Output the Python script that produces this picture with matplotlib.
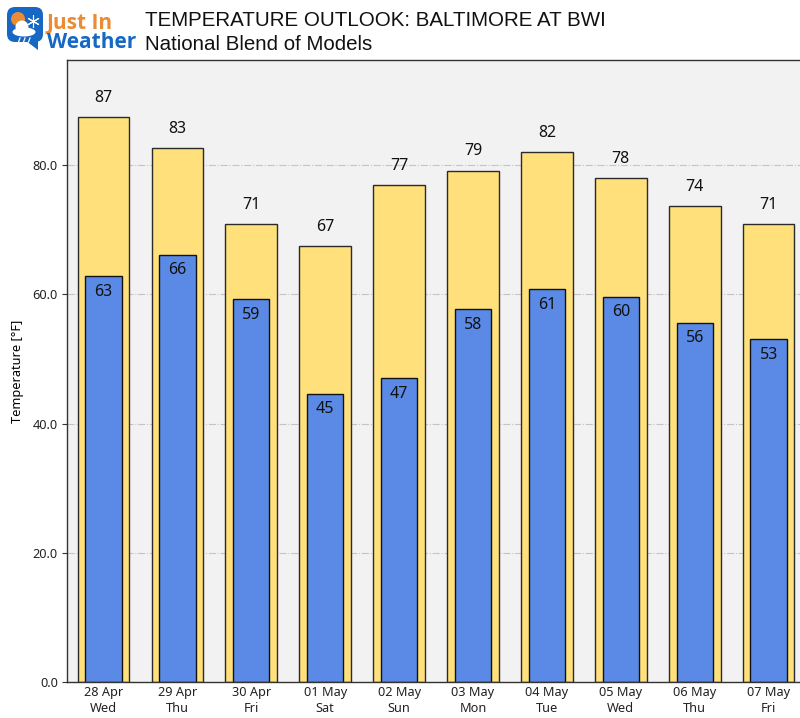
#temperature outlook bars, high behind low
import matplotlib.pyplot as plt
from matplotlib.patches import FancyBboxPatch, Circle, Ellipse, Polygon
import numpy as np

plt.rcParams['font.family'] = ['Noto Sans', 'DejaVu Sans']

dates = ['28 Apr', '29 Apr', '30 Apr', '01 May', '02 May', '03 May', '04 May', '05 May', '06 May', '07 May']
days = ['Wed', 'Thu', 'Fri', 'Sat', 'Sun', 'Mon', 'Tue', 'Wed', 'Thu', 'Fri']
highs = [87.4, 82.6, 70.8, 67.4, 76.9, 79.1, 82.0, 78.0, 73.6, 70.8]
lows = [62.8, 66.1, 59.2, 44.6, 47.0, 57.7, 60.8, 59.6, 55.6, 53.0]
yticks = [0, 20, 40, 60, 80]

W, H = 800, 718
fig = plt.figure(figsize=(W / 100, H / 100), dpi=100, facecolor='white')

#axes in pixels: left 67, top 60, bottom 682, runs off the right side
ax = fig.add_axes([67 / W, 1 - 682 / H, (W - 67) / W, (682 - 60) / H])
ax.set_facecolor('#f2f2f2')

x = np.arange(len(dates))
ax.yaxis.grid(True, color='#c4c4c4', linestyle='-.', linewidth=0.8)
ax.set_axisbelow(True)
ax.bar(x, highs, width=0.7, color='#ffe07a', edgecolor='#2a2a2a', linewidth=1)
ax.bar(x, lows, width=0.49, color='#5a8ae6', edgecolor='#111111', linewidth=1)

for i in x:
    ax.text(i, highs[i] + 3, '%.0f' % highs[i], ha='center', va='center', fontsize=11.5, color='#111111')
    ax.text(i, lows[i] - 2.4, '%.0f' % lows[i], ha='center', va='center', fontsize=11.5, color='#111111')

ax.set_xlim(-0.494, 9.425)
ax.set_ylim(0, 96.25)
ax.set_xticks(x)
ax.set_xticklabels([d + '\n' + n for d, n in zip(dates, days)], fontsize=9.2, linespacing=1.3)
ax.set_yticks(yticks)
ax.set_yticklabels(['%.1f' % v for v in yticks], fontsize=9.2)
ax.set_ylabel('Temperature [°F]', fontsize=9.2, labelpad=6)
ax.tick_params(axis='y', length=3.5, width=0.8, pad=3, color='#333333', labelcolor='#222222')
ax.tick_params(axis='x', length=0, pad=3, labelcolor='#222222')
ax.spines['right'].set_visible(False)
for s in ['left', 'top', 'bottom']:
    ax.spines[s].set_color('#333333')
    ax.spines[s].set_linewidth(1)

#titles
fig.text(145 / W, 1 - 20 / H, 'TEMPERATURE OUTLOOK: BALTIMORE AT BWI', family='Liberation Sans',
         fontsize=14.8, ha='left', va='center', color='#111111')
fig.text(145 / W, 1 - 44 / H, 'National Blend of Models', family='Liberation Sans',
         fontsize=14.8, ha='left', va='center', color='#111111')

#logo, overlay axes in pixel coordinates
logo = fig.add_axes([0, 0, 1, 1], facecolor='none')
logo.set_xlim(0, W)
logo.set_ylim(H, 0)
logo.axis('off')
logo.add_patch(FancyBboxPatch((12, 12), 26, 25, boxstyle='round,pad=5,rounding_size=8', fc='#1668c4', ec='none'))
logo.add_patch(Polygon([[26, 41], [38, 41], [38, 50]], fc='#1668c4', ec='none'))
logo.add_patch(Circle((18, 19), 7, fc='#ea8b36', ec='none'))
logo.plot([33], [21], marker=(6, 2, 0), markersize=9, mew=0.8, color='white')
logo.add_patch(Ellipse((24, 32), 23, 9, fc='white', ec='none'))
logo.add_patch(Circle((22, 27), 6.5, fc='white', ec='none'))
for rx in [20, 25, 30]:
    logo.plot([rx, rx - 1.5], [38, 42], color='white', lw=0.9)
logo.text(47, 24, 'Just In', family='Open Sans', fontsize=15, weight='bold', color='#ea8b36', ha='left', va='center')
logo.text(47, 43, 'Weather', family='Open Sans', fontsize=15, weight='bold', color='#1668c4', ha='left', va='center')

fig.savefig('out.png', dpi=100)
